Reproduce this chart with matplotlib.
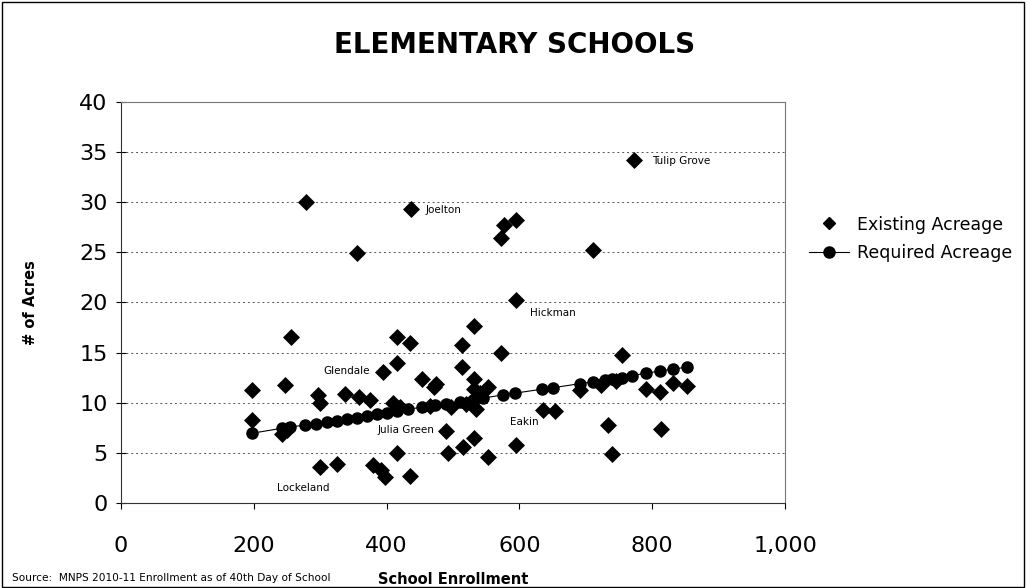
import matplotlib.pyplot as plt
from matplotlib.lines import Line2D
from matplotlib.patches import Rectangle

plt.rcParams['font.family'] = 'DejaVu Sans'

# Existing acreage (one diamond per school)
existing_enrollment = [279, 436, 355, 772, 595, 577, 573, 711, 595,
                       256, 415, 435, 532, 514, 572, 754, 415, 394, 513,
                       454, 475, 531, 197, 247, 296, 300, 338, 358, 375, 410,
                       197, 242, 250, 471, 553, 531, 541, 534, 520, 497, 465, 535, 420,
                       691, 723, 745, 791, 812, 831, 853,
                       636, 653, 733, 813, 490, 531, 595, 492, 515, 553, 739, 415,
                       300, 325, 380, 397, 435, 392]
existing_acres = [30.0, 29.3, 24.9, 34.2, 28.2, 27.7, 26.4, 25.2, 20.2,
                  16.6, 16.6, 16.0, 17.7, 15.8, 15.0, 14.8, 14.0, 13.1, 13.6,
                  12.4, 11.9, 12.4, 11.3, 11.8, 10.8, 10.0, 10.9, 10.6, 10.3, 10.0,
                  8.3, 6.9, 7.3, 11.6, 11.6, 11.4, 11.0, 10.5, 9.9, 9.6, 9.7, 9.4, 9.6,
                  11.3, 11.8, 12.2, 11.4, 11.1, 12.0, 11.7,
                  9.3, 9.2, 7.8, 7.4, 7.2, 6.5, 5.8, 5.0, 5.6, 4.6, 4.9, 5.0,
                  3.6, 3.9, 3.8, 2.6, 2.7, 3.3]

# Required acreage
required_enrollment = [197, 242, 254, 277, 294, 310, 325, 340, 355, 370, 385, 400,
                       415, 432, 453, 473, 490, 510, 530, 545, 576, 593, 634, 651,
                       691, 711, 729, 739, 754, 769, 791, 811, 831, 852]
required_acres = [6.95, 7.45, 7.6, 7.75, 7.9, 8.05, 8.2, 8.35, 8.5, 8.65, 8.85, 9.0,
                  9.15, 9.35, 9.55, 9.75, 9.9, 10.1, 10.3, 10.45, 10.8, 10.95, 11.35, 11.5,
                  11.9, 12.1, 12.25, 12.4, 12.5, 12.7, 12.95, 13.15, 13.35, 13.55]

# school name labels
label_names = ['Tulip Grove', 'Joelton', 'Hickman', 'Glendale', 'Julia Green', 'Eakin', 'Lockeland']
label_x = [800, 458, 616, 375, 387, 586, 235]
label_y = [34.1, 29.2, 18.9, 13.2, 7.3, 8.1, 1.5]
label_ha = ['left', 'left', 'left', 'right', 'left', 'left', 'left']

x_ticks = [0, 200, 400, 600, 800, 1000]
x_tick_labels = ['0', '200', '400', '600', '800', '1,000']
y_ticks = [0, 5, 10, 15, 20, 25, 30, 35, 40]

fig = plt.figure(figsize=(10.27, 5.88), dpi=100)
ax = fig.add_axes([0.1178, 0.1446, 0.6466, 0.682])

ax.scatter(existing_enrollment, existing_acres, marker='D', s=75, color='black',
           linewidths=0, zorder=3)
ax.plot(required_enrollment, required_acres, color='black', linewidth=0.8,
        marker='o', markersize=8, zorder=4)

for name, lx, ly, ha in zip(label_names, label_x, label_y, label_ha):
    ax.text(lx, ly, name, fontsize=7.5, ha=ha, va='center')

ax.set_xlim(0, 1000)
ax.set_ylim(0, 40)
ax.set_xticks(x_ticks)
ax.set_xticklabels(x_tick_labels)
ax.set_yticks(y_ticks)
ax.tick_params(axis='x', labelsize=16, direction='out', length=4, pad=20)
ax.tick_params(axis='y', labelsize=16, direction='inout', length=7, pad=6)

ax.yaxis.grid(True, linestyle=(0, (2, 3)), color='#555555', linewidth=0.7)
ax.set_axisbelow(True)
for side in ['top', 'right']:
    ax.spines[side].set_color('#777777')
for side in ['left', 'bottom']:
    ax.spines[side].set_color('#333333')

ax.set_xlabel('School Enrollment', fontsize=10.5, fontweight='bold')
ax.xaxis.set_label_coords(0.5, -0.172)
ax.set_ylabel('# of Acres', fontsize=10.5, fontweight='bold')
ax.yaxis.set_label_coords(-0.125, 0.5)

fig.text(0.501, 0.923, 'ELEMENTARY SCHOOLS', fontsize=20, fontweight='bold',
         ha='center', va='center')
fig.text(0.012, 0.008, 'Source:  MNPS 2010-11 Enrollment as of 40th Day of School',
         fontsize=7.6, ha='left', va='bottom')

legend_handles = [
    Line2D([0], [0], marker='D', color='none', markerfacecolor='black',
           markeredgecolor='black', markersize=6.5, label='Existing Acreage'),
    Line2D([0], [0], marker='o', color='black', linewidth=0.8,
           markersize=8, label='Required Acreage'),
]
fig.legend(handles=legend_handles, loc='center left', bbox_to_anchor=(809 / 1027, 0.594),
           frameon=False, fontsize=12.5, handlelength=2.3, handletextpad=0.45,
           borderpad=0, borderaxespad=0, labelspacing=0.6)

# outer chart border
fig.patches.append(Rectangle((0.002, 0.002), 0.995, 0.995, transform=fig.transFigure,
                             fill=False, edgecolor='black', linewidth=1))

fig.savefig('out.png', dpi=100)
